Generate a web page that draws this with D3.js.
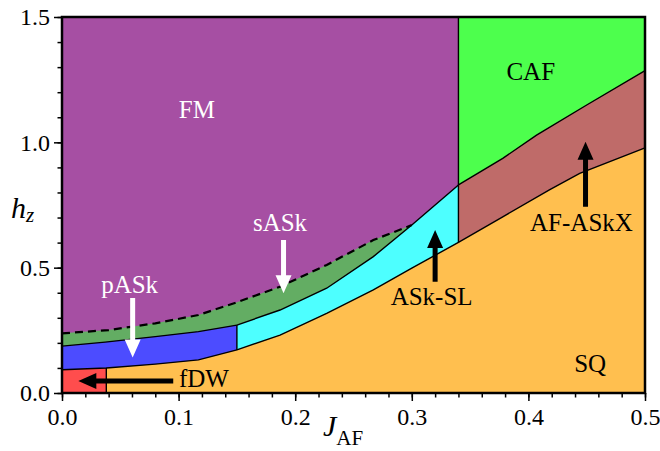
<!DOCTYPE html>
<html>
<head>
<meta charset="utf-8">
<script src="https://cdn.jsdelivr.net/npm/d3@7"></script>
<style>
  body { margin: 0; background: #fff; }
</style>
</head>
<body>
<div id="chart-area"></div>
<script>
const serif = '"Liberation Serif"'

// phase boundaries, [J_AF, h_z]
const sqTop = [[0, 0.093], [0.038, 0.100], [0.08, 0.115], [0.117, 0.132], [0.15, 0.172],
  [0.187, 0.231], [0.227, 0.318], [0.267, 0.411], [0.30, 0.498], [0.34, 0.601],
  [0.378, 0.703], [0.418, 0.81], [0.444, 0.876], [0.5, 0.978]]
const pAskTop = [[0, 0.187], [0.037, 0.203], [0.08, 0.225], [0.117, 0.245], [0.15, 0.271]]
const askSlTop = [[0.15, 0.271], [0.187, 0.331], [0.227, 0.418], [0.267, 0.544], [0.30, 0.67], [0.34, 0.83]]
const sAskTop = [[0, 0.238], [0.04, 0.251], [0.08, 0.278], [0.117, 0.311], [0.15, 0.362],
  [0.187, 0.424], [0.227, 0.511], [0.267, 0.61], [0.30, 0.67]]
const cafBottom = [[0.34, 0.83], [0.378, 0.936], [0.407, 1.029], [0.45, 1.149], [0.5, 1.286]]
const fdwEdge = 0.038
const slEdge = 0.15
const cafEdge = 0.34

const xTicks = [0, 0.1, 0.2, 0.3, 0.4, 0.5]
const yTicks = [0, 0.5, 1.0, 1.5]

const labels = [
  {text: 'FM', J: 0.1157, h: 1.097, color: '#fff', anchor: 'middle'},
  {text: 'CAF', J: 0.402, h: 1.249, color: '#000', anchor: 'middle'},
  {text: 'AF-ASkX', J: 0.4455, h: 0.646, color: '#000', anchor: 'middle'},
  {text: 'ASk-SL', J: 0.317, h: 0.351, color: '#000', anchor: 'middle'},
  {text: 'sASk', J: 0.187, h: 0.647, color: '#fff', anchor: 'middle'},
  {text: 'pASk', J: 0.058, h: 0.40, color: '#fff', anchor: 'middle'},
  {text: 'fDW', J: 0.1003, h: 0.023, color: '#000', anchor: 'start'},
  {text: 'SQ', J: 0.453, h: 0.085, color: '#000', anchor: 'middle'}
]

// arrows: from -> to (tip)
const arrows = [
  {from: [0.0606, 0.379], to: [0.0606, 0.142], color: '#fff'},
  {from: [0.19, 0.61], to: [0.19, 0.398], color: '#fff'},
  {from: [0.32, 0.444], to: [0.32, 0.65], color: '#000'},
  {from: [0.449, 0.743], to: [0.449, 1.002], color: '#000'},
  {from: [0.0954, 0.048], to: [0.014, 0.048], color: '#000'}
]

const colors = {
  FM: '#a64fa3', CAF: '#4dff4d', AFX: '#bf6b69', SQ: '#ffbf4f',
  SL: '#4dffff', sASk: '#63ad63', pASk: '#4c4cff', fDW: '#ff4d4d'
}

const W = 660, H = 451
const x = d3.scaleLinear().domain([0, 0.5]).range([62, 645])
const y = d3.scaleLinear().domain([0, 1.5]).range([393, 17])

const svg = d3.select('#chart-area')
  .append('svg')
    .attr('width', W)
    .attr('height', H)

const line = d3.line().x(d => x(d[0])).y(d => y(d[1]))
const between = (arr, a, b) => arr.filter(d => d[0] >= a - 1e-9 && d[0] <= b + 1e-9)
const poly = pts => line(pts) + 'Z'

const g = svg.append('g')

// background = FM
g.append('rect')
  .attr('x', x(0)).attr('y', y(1.5))
  .attr('width', x(0.5) - x(0)).attr('height', y(0) - y(1.5))
  .attr('fill', colors.FM)

// CAF
g.append('path')
  .attr('d', poly([...cafBottom, [0.5, 1.5], [cafEdge, 1.5]]))
  .attr('fill', colors.CAF)

// AF-ASkX
g.append('path')
  .attr('d', poly([...between(sqTop, cafEdge, 0.5), ...cafBottom.slice().reverse()]))
  .attr('fill', colors.AFX)

// sASk (green)
g.append('path')
  .attr('d', poly([...pAskTop, ...between(askSlTop, slEdge, 0.30).slice(1), ...sAskTop.slice().reverse()]))
  .attr('fill', colors.sASk)

// ASk-SL (cyan)
g.append('path')
  .attr('d', poly([...between(sqTop, slEdge, cafEdge), ...askSlTop.slice().reverse()]))
  .attr('fill', colors.SL)

// pASk (blue)
g.append('path')
  .attr('d', poly([...between(sqTop, 0, slEdge), ...pAskTop.slice().reverse()]))
  .attr('fill', colors.pASk)

// SQ
g.append('path')
  .attr('d', poly([[0, 0], ...sqTop, [0.5, 0]]))
  .attr('fill', colors.SQ)

// fDW
g.append('path')
  .attr('d', poly([[0, 0], ...between(sqTop, 0, fdwEdge), [fdwEdge, 0]]))
  .attr('fill', colors.fDW)

// boundary lines
const solid = [sqTop, pAskTop, askSlTop, cafBottom,
  [[fdwEdge, 0], [fdwEdge, 0.100]],
  [[slEdge, 0.172], [slEdge, 0.271]],
  [[cafEdge, 0.601], [cafEdge, 1.5]]]
g.selectAll('.bound')
  .data(solid)
  .enter().append('path')
    .attr('class', 'bound')
    .attr('d', line)
    .attr('fill', 'none')
    .attr('stroke', '#000')
    .attr('stroke-width', 1.4)

g.append('path')
  .attr('d', line(sAskTop))
  .attr('fill', 'none')
  .attr('stroke', '#000')
  .attr('stroke-width', 2.2)
  .attr('stroke-dasharray', '8,5')

// arrows
const headLen = 18, headW = 8, shaftW = 2.5
arrows.forEach(a => {
  const x0 = x(a.from[0]), y0 = y(a.from[1]), x1 = x(a.to[0]), y1 = y(a.to[1])
  const len = Math.hypot(x1 - x0, y1 - y0)
  const ux = (x1 - x0) / len, uy = (y1 - y0) / len
  const px = -uy, py = ux
  const bx = x1 - ux * headLen, by = y1 - uy * headLen
  const pts = [
    [x0 + px * shaftW, y0 + py * shaftW],
    [bx + px * shaftW, by + py * shaftW],
    [bx + px * headW, by + py * headW],
    [x1, y1],
    [bx - px * headW, by - py * headW],
    [bx - px * shaftW, by - py * shaftW],
    [x0 - px * shaftW, y0 - py * shaftW]
  ]
  g.append('path')
    .attr('d', d3.line()(pts) + 'Z')
    .attr('fill', a.color)
})

// region labels
g.selectAll('.lbl')
  .data(labels)
  .enter().append('text')
    .attr('class', 'lbl')
    .attr('x', d => x(d.J))
    .attr('y', d => y(d.h))
    .attr('text-anchor', d => d.anchor)
    .attr('fill', d => d.color)
    .attr('font-family', serif)
    .attr('font-size', 25)
    .text(d => d.text)

// frame
svg.append('rect')
  .attr('x', x(0)).attr('y', y(1.5))
  .attr('width', x(0.5) - x(0)).attr('height', y(0) - y(1.5))
  .attr('fill', 'none')
  .attr('stroke', '#000')
  .attr('stroke-width', 2.5)

// axes
const xAxis = svg.append('g').attr('transform', `translate(0,${y(0)})`)
xAxis.call(d3.axisBottom(x).ticks(25).tickSize(4.5).tickFormat(''))
xAxis.select('.domain').remove()
const xMajor = svg.append('g').attr('transform', `translate(0,${y(0)})`)
  .call(d3.axisBottom(x).tickValues(xTicks).tickSize(8).tickPadding(7).tickFormat(d3.format('.1f')))
xMajor.select('.domain').remove()

const yAxis = svg.append('g').attr('transform', `translate(${x(0)},0)`)
yAxis.call(d3.axisLeft(y).ticks(15).tickSize(4.5).tickFormat(''))
yAxis.select('.domain').remove()
const yMajor = svg.append('g').attr('transform', `translate(${x(0)},0)`)
  .call(d3.axisLeft(y).tickValues(yTicks).tickSize(8).tickPadding(4).tickFormat(d3.format('.1f')))
yMajor.select('.domain').remove()

svg.selectAll('.tick line').attr('stroke', '#000').attr('stroke-width', 1.5)
svg.selectAll('.tick text')
  .attr('font-family', serif)
  .attr('font-size', 24)
  .attr('fill', '#000')

// axis labels
const xl = svg.append('text').attr('x', 323).attr('y', 436).attr('font-family', serif)
xl.append('tspan').attr('font-style', 'italic').attr('font-size', 30).text('J')
xl.append('tspan').attr('font-size', 21).attr('dy', 9).text('AF')

const yl = svg.append('text').attr('x', 11).attr('y', 218).attr('font-family', serif)
yl.append('tspan').attr('font-style', 'italic').attr('font-size', 30).text('h')
yl.append('tspan').attr('font-style', 'italic').attr('font-size', 21).attr('dy', 4).text('z')
</script>
</body>
</html>
